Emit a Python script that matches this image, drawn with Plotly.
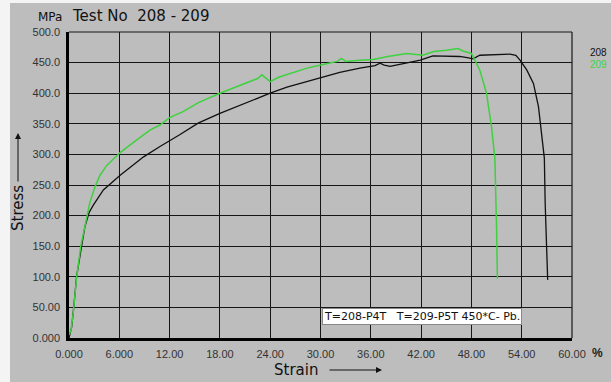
import plotly.graph_objects as go

# Specimen 208 (black)
strain_208 = [0.0, 0.15, 0.32, 0.6, 0.9, 1.5, 1.9, 2.4, 2.9, 4.1, 6.1, 8.9, 10.85, 13.2, 15.4,
              18.0, 21.0, 24.0, 26.0, 28.4, 30.0, 32.3, 34.7, 36.5, 37.1, 37.6, 38.3, 40.0,
              41.9, 43.4, 45.0, 46.6, 47.5, 48.2, 49.0, 50.5, 52.6, 53.3, 53.8, 54.6, 55.4,
              56.0, 56.4, 56.7, 56.8, 57.0, 57.1]
stress_208 = [0, 10, 18, 55, 100, 150, 182, 205, 217, 242, 266, 296, 313, 332, 351,
              367, 384, 400, 410, 419, 426, 434, 441, 445, 449, 446, 444, 449,
              454, 461, 461, 460, 458, 456, 462, 463, 464, 462, 454, 438, 416,
              378, 334, 294, 220, 149, 95]

# Specimen 209 (green)
strain_209 = [0.0, 0.24, 0.5, 0.92, 1.4, 1.9, 2.5, 3.1, 3.5, 3.7, 4.5, 6.1, 8.0, 9.7, 10.85,
              12.0, 13.6, 15.5, 18.0, 19.5, 21.0, 21.6, 22.5, 23.0, 23.5, 24.0, 25.0, 26.5,
              28.4, 30.7, 32.0, 32.5, 33.0, 34.7, 36.3, 38.0, 40.3, 42.2, 43.5, 45.0, 46.4,
              47.0, 48.0, 49.0, 49.8, 50.4, 50.8, 51.0, 51.1]
stress_209 = [5, 13, 40, 100, 150, 182, 222, 247, 262, 266, 282, 303, 323, 340, 348,
              360, 370, 385, 400, 408, 415, 419, 424, 430, 425, 419, 426, 433,
              441, 448, 452, 457, 452, 454, 455, 460, 465, 462, 468, 470, 473,
              469, 465, 438, 400, 345, 294, 182, 97]

x_tickvals = [0, 6, 12, 18, 24, 30, 36, 42, 48, 54, 60]
x_ticktext = ["0.000", "6.000", "12.00", "18.00", "24.00", "30.00", "36.00", "42.00", "48.00", "54.00", "60.00"]
y_tickvals = [0, 50, 100, 150, 200, 250, 300, 350, 400, 450, 500]
y_ticktext = ["0.000", "50.00", "100.0", "150.0", "200.0", "250.0", "300.0", "350.0", "400.0", "450.0", "500.0"]

BG = "#bdbdbd"
fig = go.Figure()
fig.add_trace(go.Scatter(x=strain_208, y=stress_208, mode="lines",
                         line=dict(color="#111111", width=1.3), name="208"))
fig.add_trace(go.Scatter(x=strain_209, y=stress_209, mode="lines",
                         line=dict(color="#3fd13f", width=1.5), name="209"))

tickfont = dict(family="Liberation Sans", size=11, color="#333333")
fig.update_xaxes(range=[0, 60], tickvals=x_tickvals, ticktext=x_ticktext, tickfont=tickfont,
                 showgrid=True, gridcolor="#161616", gridwidth=1.2, zeroline=False,
                 showline=True, linecolor="#000000", linewidth=2.5, ticks="", ticklabelstandoff=4)
fig.update_yaxes(range=[0, 500], tickvals=y_tickvals, ticktext=y_ticktext, tickfont=tickfont,
                 showgrid=True, gridcolor="#161616", gridwidth=1.2, zeroline=False,
                 showline=True, linecolor="#000000", linewidth=2.5, ticks="", ticklabelstandoff=4)

L, R, T, B = 69, 39, 32, 44
W, H = 611, 382
pw, ph = W - L - R, H - T - B
def px(xp):
    return (xp - L) / pw
def py(yp):
    return (H - B - yp) / ph

shapes = [
    dict(type="rect", xref="paper", yref="paper", x0=px(10), x1=px(W + 2), y0=py(H + 2), y1=py(3),
         fillcolor=BG, line=dict(width=0), layer="below"),
    dict(type="line", xref="paper", yref="paper", x0=0, x1=1, y0=1, y1=1,
         line=dict(color="#161616", width=1.2)),
    dict(type="line", xref="paper", yref="paper", x0=1, x1=1, y0=0, y1=1,
         line=dict(color="#161616", width=1.2)),
]

annotations = [
    dict(xref="paper", yref="paper", x=px(36), y=py(23), text="MPa", showarrow=False,
         xanchor="left", yanchor="bottom", yshift=-3,
         font=dict(family="DejaVu Sans", size=12, color="#111111")),
    dict(xref="paper", yref="paper", x=px(70), y=py(23), text="Test No  208 - 209", showarrow=False,
         xanchor="left", yanchor="bottom", yshift=-4,
         font=dict(family="DejaVu Sans", size=15, color="#111111")),
    dict(xref="paper", yref="paper", x=px(588), y=py(52), text="208", showarrow=False,
         xanchor="left", yanchor="middle",
         font=dict(family="Liberation Sans", size=10, color="#111111")),
    dict(xref="paper", yref="paper", x=px(588), y=py(65), text="209", showarrow=False,
         xanchor="left", yanchor="middle",
         font=dict(family="Liberation Sans", size=10, color="#3fd13f")),
    dict(xref="paper", yref="paper", x=px(597), y=py(353), text="<b>%</b>", showarrow=False,
         xanchor="center", yanchor="middle",
         font=dict(family="Liberation Sans", size=12, color="#222222")),
    dict(xref="paper", yref="paper", x=px(296), y=py(370), text="Strain", showarrow=False,
         xanchor="center", yanchor="middle",
         font=dict(family="DejaVu Sans", size=15, color="#111111")),
    dict(xref="paper", yref="paper", x=px(382), y=py(370), ax=-54, ay=0,
         axref="pixel", ayref="pixel", text="", showarrow=True,
         arrowhead=2, arrowsize=1.2, arrowwidth=1, arrowcolor="#111111"),
    dict(xref="paper", yref="paper", x=px(18), y=py(208), text="Stress", showarrow=False,
         textangle=-90, xanchor="center", yanchor="middle",
         font=dict(family="DejaVu Sans", size=15, color="#111111")),
    dict(xref="paper", yref="paper", x=px(18), y=py(133), ax=0, ay=50,
         axref="pixel", ayref="pixel", text="", showarrow=True,
         arrowhead=2, arrowsize=1.2, arrowwidth=1, arrowcolor="#111111"),
    dict(xref="paper", yref="paper", x=px(322), y=py(316), text="T=208-P4T   T=209-P5T 450*C- Pb.",
         showarrow=False, xanchor="left", yanchor="middle", bgcolor="#ffffff",
         bordercolor="#888888", borderwidth=1, borderpad=1,
         font=dict(family="DejaVu Sans", size=11, color="#111111")),
]

fig.update_layout(width=W, height=H, margin=dict(l=L, r=R, t=T, b=B),
                  paper_bgcolor="#f4f4f4", plot_bgcolor=BG, showlegend=False,
                  shapes=shapes, annotations=annotations)

fig.write_html("out.html")
